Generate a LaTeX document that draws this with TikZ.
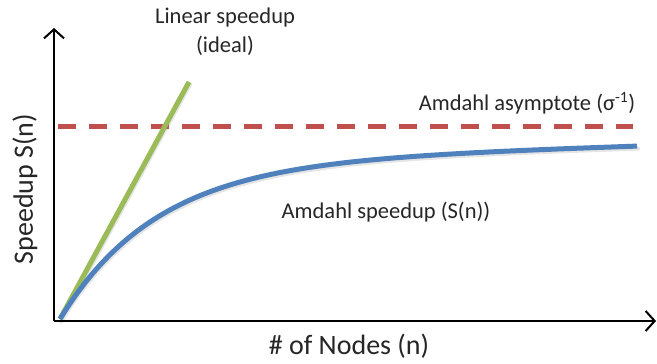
\documentclass[tikz,border=0pt]{standalone}
\usepackage{fontspec}
\setmainfont{Carlito}
\usetikzlibrary{arrows.meta}
\definecolor{lingreen}{HTML}{9BBB59}
\definecolor{asymred}{HTML}{C0504D}
\definecolor{amdblue}{HTML}{4F81BD}
\tikzset{
  axis/.style={line width=2pt, -{Straight Barb[length=9pt,width=20pt,line width=2pt]}},
  curve/.style={line width=5pt},
  shade/.style={line width=4pt, black!10},
  lbl/.style={inner sep=0pt, font=\fontsize{22.5}{24}\selectfont, text=black!85},
  axlbl/.style={inner sep=0pt, font=\fontsize{28}{30}\selectfont, text=black!85},
}
% speedup curve, x measured from the origin of the curves
\newcommand{\amdahlh}[1]{156*(1-exp(-(#1)/97))+0.03*(#1)}
\begin{document}
\begin{tikzpicture}[x=1pt,y=-1pt]
\useasboundingbox (0,0) rectangle (657,364);
% axes
\coordinate (o) at (54,321);
\coordinate (ytop) at (54,28);
\coordinate (xend) at (656,321);
\coordinate (c0) at (60,319);
\coordinate (lin) at (189,82);
\coordinate (a0) at (58,126);
\coordinate (a1) at (633,126);
% soft shadows under the curves
\draw[shade, line cap=round] ([shift={(1,2.5)}]c0) -- ([shift={(1,2.5)}]lin);
\draw[shade, line cap=round, domain=0:577, samples=120, smooth]
  plot ({61+\x}, {321.5-(\amdahlh{\x})});
% asymptote
\draw[curve, asymred, dash pattern=on 18pt off 13pt] (a0) -- (a1);
% linear speedup
\draw[curve, lingreen] (c0) -- (lin);
% Amdahl speedup
\draw[curve, amdblue, domain=0:577, samples=120, smooth]
  plot ({60+\x}, {319-(\amdahlh{\x})});
\draw[axis] (o) -- (ytop);
\draw[axis] (o) -- (xend);
% labels
\node[lbl] (t1) at (225,18) {Linear speedup};
\node[lbl] (t2) at (225,46) {(ideal)};
\node[lbl] (t3) at (527,103) {Amdahl asymptote (σ\textsuperscript{-1})};
\node[lbl] (t4) at (386,212) {Amdahl speedup (S(n))};
\node[axlbl] (xl) at (349,346) {\# of Nodes (n)};
\node[axlbl, rotate=90] (yl) at (25,189) {Speedup S(n)};
\end{tikzpicture}
\end{document}
